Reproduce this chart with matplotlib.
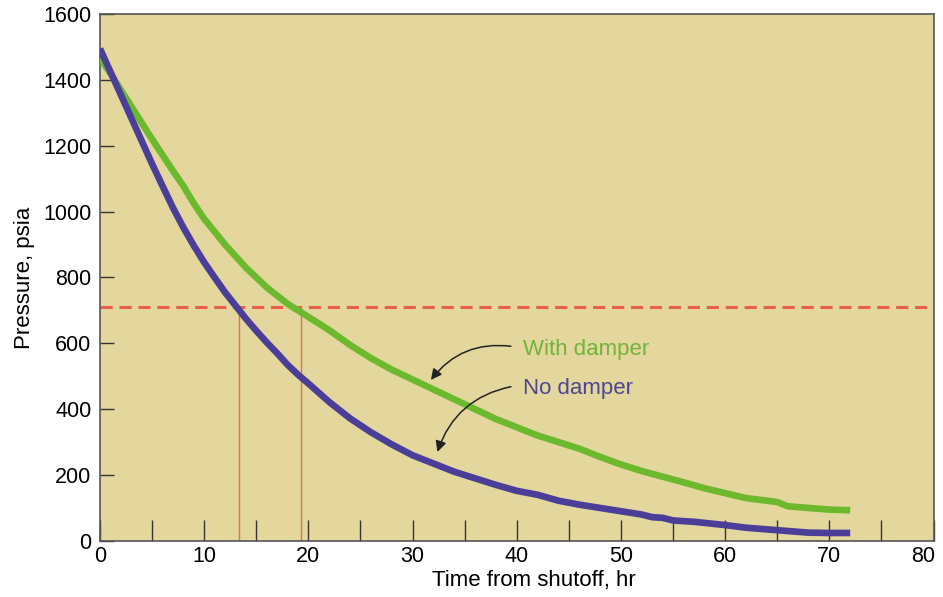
import matplotlib.pyplot as plt
import matplotlib.transforms as mtransforms
from matplotlib.ticker import MultipleLocator, FuncFormatter

plt.rcParams['font.family'] = ['Liberation Sans', 'DejaVu Sans']

# no damper curve (hr, psia)
t_no = [0, 1, 2, 3, 4, 5, 6, 7, 8, 9, 10, 11, 12, 13, 14, 15, 16, 17, 18, 19,
        20, 22, 24, 26, 28, 30, 32, 34, 36, 38, 40, 42, 44, 46, 48, 50, 52, 53,
        54, 55, 57, 60, 62, 64, 66, 68, 70, 72]
p_no = [1495, 1425, 1355, 1285, 1215, 1145, 1078, 1012, 952, 897, 846, 800,
        755, 715, 675, 638, 603, 570, 535, 505, 478, 422, 372, 330, 293, 260,
        235, 210, 190, 170, 152, 140, 122, 110, 100, 90, 80, 72, 70, 62, 58,
        48, 40, 35, 30, 25, 24, 24]

# with damper curve
t_with = [0, 1, 2, 3, 4, 5, 6, 7, 8, 9, 10, 12, 14, 16, 18, 20, 22, 24, 26,
          28, 30, 32, 34, 36, 38, 40, 42, 44, 46, 48, 50, 52, 54, 56, 58, 60,
          62, 64, 65, 66, 68, 70, 72]
p_with = [1465, 1420, 1370, 1320, 1270, 1220, 1172, 1124, 1078, 1025, 978,
          900, 830, 770, 720, 680, 640, 595, 555, 520, 490, 460, 430, 400,
          370, 345, 320, 300, 280, 255, 232, 212, 195, 178, 160, 145, 130,
          122, 118, 105, 100, 95, 93]

limit_p = 710
cross_t = [13.3, 19.3]
x_max = 80

green = '#6cb92d'
purple = '#4a3e98'
red = '#e8604a'

fig = plt.figure(figsize=(9.43, 5.97), dpi=100)
ax = fig.add_axes([0.106, 0.094, 0.884, 0.8825])
ax.set_facecolor('#e3d79e')

ax.axhline(limit_p, color=red, lw=2.2, ls=(0, (4, 2.2)), zorder=2)
for t in cross_t:
    ax.plot([t, t], [0, limit_p], color='#e0704f', lw=1, zorder=2)

ax.plot(t_with, p_with, color=green, lw=4.8, solid_capstyle='butt',
        solid_joinstyle='round', zorder=3)
ax.plot(t_no, p_no, color=purple, lw=4.8, solid_capstyle='butt',
        solid_joinstyle='round', zorder=4)

ax.text(40.6, 580, 'With damper', color='#72b43a', fontsize=16, va='center')
ax.text(40.6, 462, 'No damper', color='#4e4593', fontsize=16, va='center')
ax.annotate('', xy=(31.6, 482), xytext=(39.7, 590),
            arrowprops=dict(arrowstyle='-|>', color='#222222', lw=1.1,
                            mutation_scale=16, connectionstyle='arc3,rad=0.3'))
ax.annotate('', xy=(32.3, 262), xytext=(39.7, 470),
            arrowprops=dict(arrowstyle='-|>', color='#222222', lw=1.1,
                            mutation_scale=16, connectionstyle='arc3,rad=0.3'))

ax.set_xlim(0, x_max)
ax.set_ylim(0, 1600)
ax.xaxis.set_major_locator(MultipleLocator(10))
ax.xaxis.set_minor_locator(MultipleLocator(5))
ax.yaxis.set_major_locator(MultipleLocator(200))
# last x label is drawn by hand, right-aligned so it stays inside the figure
ax.xaxis.set_major_formatter(FuncFormatter(lambda v, p: '' if v >= x_max else '%d' % v))
ax.tick_params(axis='x', which='both', direction='in', length=15, width=1,
               color='#333333', labelsize=15.5, pad=4)
ax.tick_params(axis='y', direction='in', length=10, width=1,
               color='#333333', labelsize=15.5, pad=6)
for s in ax.spines.values():
    s.set_color('#555555')
    s.set_linewidth(1.2)

trans = ax.get_xaxis_transform() + mtransforms.ScaledTranslation(1 / 72, -4 / 72, fig.dpi_scale_trans)
ax.text(x_max, 0, '%d' % x_max, transform=trans, ha='right', va='top', fontsize=15.5)

ax.set_xlabel('Time from shutoff, hr', fontsize=16)
ax.xaxis.set_label_coords(0.52, -0.055)
ax.set_ylabel('Pressure, psia', fontsize=16, labelpad=6)

fig.savefig('out.png', dpi=100)
